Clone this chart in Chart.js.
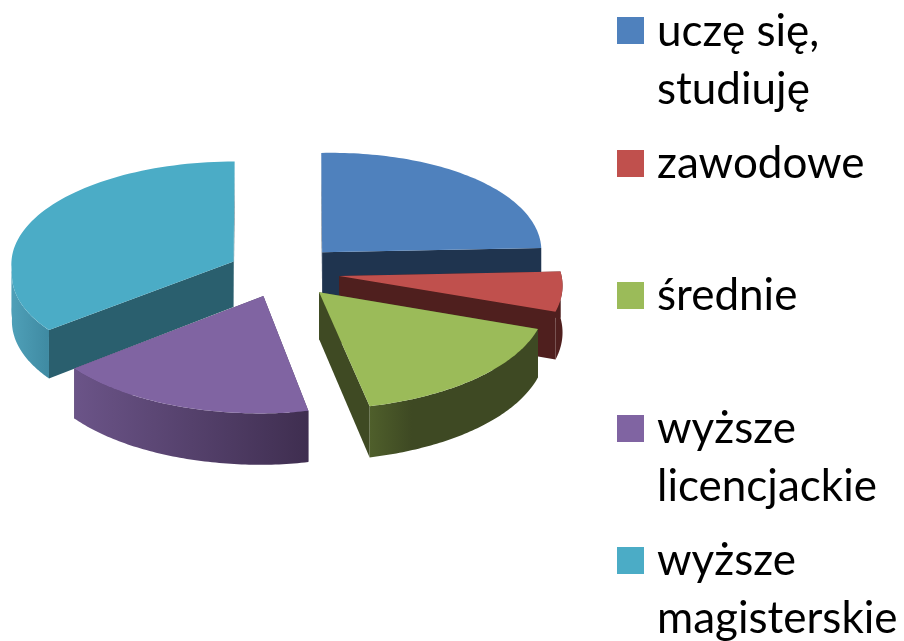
<!DOCTYPE html>
<html lang="pl">
<head>
<meta charset="utf-8">
<script src="https://cdn.jsdelivr.net/npm/chart.js@4"></script>
<style>
html,body{margin:0;padding:0;background:#fff;width:904px;height:641px;overflow:hidden}
#wrap{position:relative;width:904px;height:641px}
canvas{position:absolute;left:0;top:0}
.sw{position:absolute;left:617px;width:27px;height:27px}
.tx{position:absolute;left:657px;font-family:Lato,Carlito,sans-serif;font-size:44px;line-height:58px;color:#000;white-space:pre-line}
</style>
</head>
<body>
<div id="wrap"><canvas id="c" width="904" height="641"></canvas></div>
<script>
const categories = ['uczę się,\nstudiuję', 'zawodowe', 'średnie', 'wyższe\nlicencjackie', 'wyższe\nmagisterskie'];
const values = [25, 6, 16, 17, 36];
const topColors = ['#4f81bd', '#c0504d', '#9bbb59', '#8064a2', '#4bacc6'];
const faceColors = ['#1f344f', '#4f1f1e', '#3f4a23', '#4a3a60', '#2a5f6e'];
const sideLeft = ['#1f344f', '#4f1f1e', '#4f5f2b', '#6b5488', '#4fa0b8'];
const sideRight = ['#1f344f', '#4f1f1e', '#3e4923', '#3f2e50', '#3f8aa2'];
const sideStop = [0, 0, 0.75, 0, 0];
const sliceOffsets = [57, 58, 57, 53, 53];
const legendTops = [0, 132, 264, 397, 529];
const swatchTops = [17, 150, 282, 415, 547];

const DEPTH = 50;
function project(u, v, z) {
  const sx = (v > 0 ? 1 + 0.0005 * v : 1 + 0.0001 * v) * (u < 0 ? 1.012 : 1);
  const k = v > 0 ? 0.47 + 0.0002 * v : 0.47 + 0.00006 * v;
  const sz = 0.92 + 0.0004 * v;
  const shear = u > 0 ? -0.02 * u : 0;
  return { x: u * sx, y: v * k + shear + z * sz };
}

const solidPie = {
  id: 'solidPie',
  beforeDatasetsDraw(chart) {
    const ctx = chart.ctx;
    const meta = chart.getDatasetMeta(0);
    const order = [4, 0, 1, 3, 2];
    ctx.save();
    for (const i of order) {
      const el = meta.data[i];
      const p = el.getProps(['x', 'y', 'startAngle', 'endAngle', 'outerRadius'], true);
      const off = el.options.offset;
      const mid = (p.startAngle + p.endAngle) / 2;
      const ax = Math.cos(mid) * off, ay = Math.sin(mid) * off;
      const r = p.outerRadius;
      const pt = (t, rad, z) => {
        const q = project(ax + Math.cos(t) * rad, ay + Math.sin(t) * rad, z);
        return { x: p.x + q.x, y: p.y + q.y };
      };
      const poly = (pts, fill) => {
        ctx.beginPath();
        pts.forEach((q, n) => n ? ctx.lineTo(q.x, q.y) : ctx.moveTo(q.x, q.y));
        ctx.closePath();
        ctx.fillStyle = fill;
        ctx.fill();
      };
      const arcPts = (a, b, z) => {
        const out = [];
        const n = 72;
        for (let j = 0; j <= n; j++) out.push(pt(a + (b - a) * j / n, r, z));
        return out;
      };
      // radial cut faces
      for (const t of [p.startAngle, p.endAngle]) {
        poly([pt(t, 0, 0), pt(t, r, 0), pt(t, r, DEPTH), pt(t, 0, DEPTH)], faceColors[i]);
      }
      // rim: only the part turned toward the viewer (sin t > 0)
      const a = Math.max(p.startAngle, 0), b = Math.min(p.endAngle, Math.PI);
      if (b > a) {
        const top = arcPts(a, b, 0), bot = arcPts(a, b, DEPTH).reverse();
        const xs = top.concat(bot).map(q => q.x);
        const g = ctx.createLinearGradient(Math.max(...xs), 0, Math.min(...xs), 0);
        g.addColorStop(0, sideRight[i]);
        g.addColorStop(sideStop[i], sideRight[i]);
        g.addColorStop(1, sideLeft[i]);
        poly(top.concat(bot), g);
      }
      // top face
      poly([pt(0, 0, 0)].concat(arcPts(p.startAngle, p.endAngle, 0)), topColors[i]);
    }
    ctx.restore();
    return false;
  }
};

new Chart(document.getElementById('c'), {
  type: 'pie',
  data: {
    labels: categories,
    datasets: [{ data: values, backgroundColor: topColors, borderWidth: 0, offset: sliceOffsets }]
  },
  options: {
    responsive: false,
    animation: false,
    radius: 220,
    layout: { padding: { left: 0, right: 340, top: 0, bottom: 97 } },
    plugins: { legend: { display: false }, tooltip: { enabled: false } }
  },
  plugins: [solidPie]
});

const wrap = document.getElementById('wrap');
categories.forEach((label, i) => {
  const s = document.createElement('div');
  s.className = 'sw';
  s.style.top = swatchTops[i] + 'px';
  s.style.background = topColors[i];
  wrap.appendChild(s);
  const t = document.createElement('div');
  t.className = 'tx';
  t.style.top = legendTops[i] + 'px';
  t.textContent = label;
  wrap.appendChild(t);
});
</script>
</body>
</html>
